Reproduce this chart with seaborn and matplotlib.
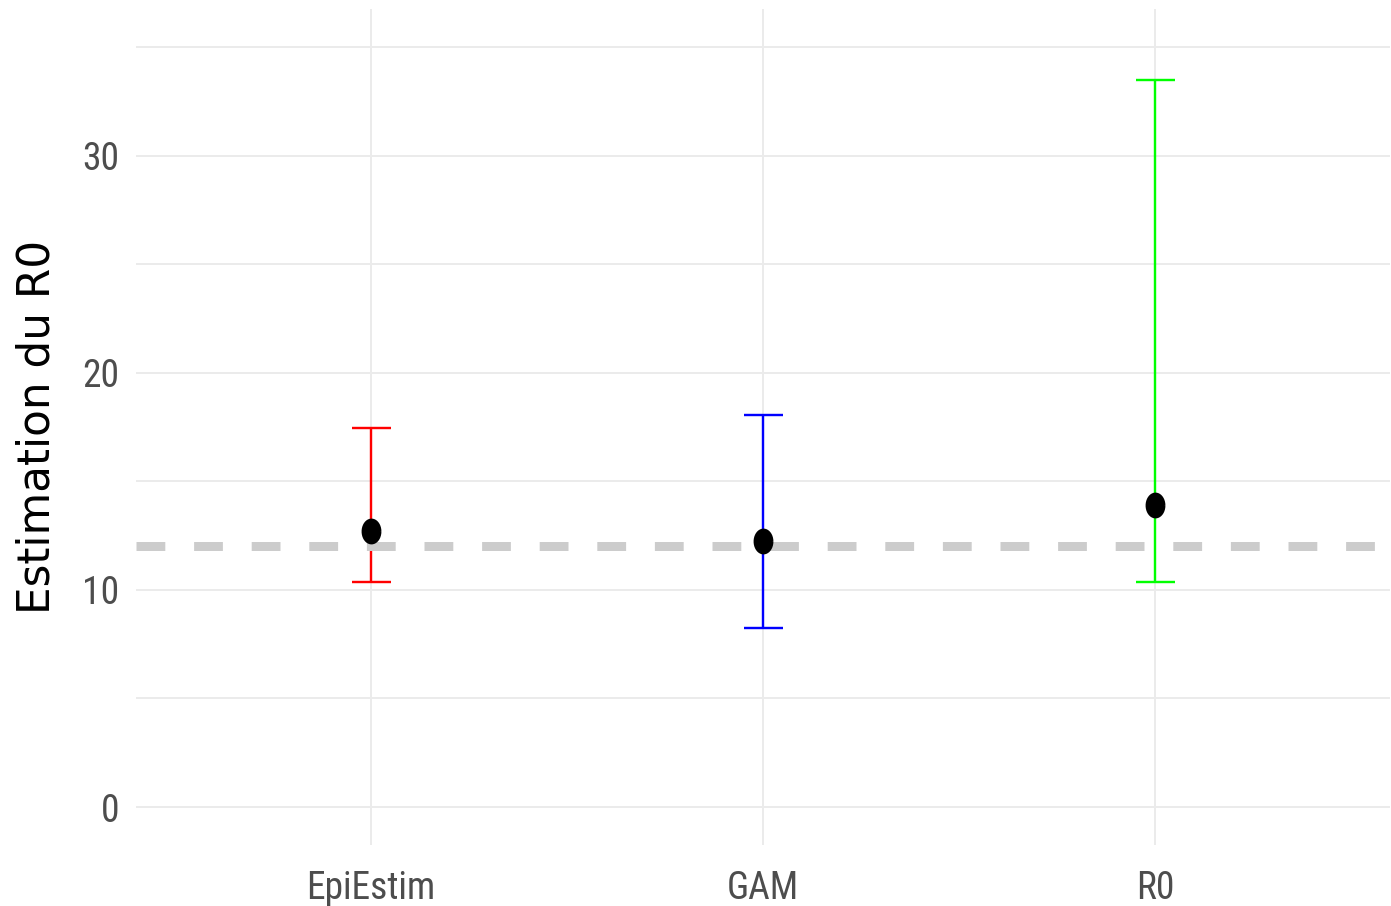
import numpy as np
import pandas as pd
import matplotlib
matplotlib.use("Agg")
import matplotlib.pyplot as plt
from matplotlib import font_manager
from matplotlib.font_manager import FontProperties
import seaborn as sns

# R0 estimates per method with their interval bounds
methods = ["EpiEstim", "GAM", "R0"]
estimates = [12.70, 12.23, 13.90]
lower = [10.37, 8.26, 10.38]
upper = [17.44, 18.06, 33.50]
bar_colors = ["#FF0000", "#0000FF", "#00FF00"]
reference_r0 = 12.0
y_ticks = [0, 10, 20, 30]
y_minor = [5, 15, 25, 35]

df = pd.DataFrame({"method": methods, "estimate": estimates,
                   "lower": lower, "upper": upper})

sns.set_theme(style="white")
plt.rcParams["font.family"] = ["DejaVu Sans"]


def pick_tick_font():
    """Prefer a narrow sans face for tick labels; fall back to Liberation Sans."""
    entries = font_manager.fontManager.ttflist
    wanted = ["liberationsansnarrow-regular", "notosans-condensed.",
              "notosans-condensedregular", "robotocondensed-regular",
              "opensans_condensed-regular", "opensans-condensedregular"]
    for key in wanted:
        for f in entries:
            base = f.fname.lower().rsplit("/", 1)[-1]
            if base.startswith(key):
                return FontProperties(fname=f.fname), True
    for f in entries:
        base = f.fname.lower().rsplit("/", 1)[-1]
        if ("narrow" in base or "condensed" in base) and "sans" in base \
                and "bold" not in base and "italic" not in base \
                and "semi" not in base and "extra" not in base and "light" not in base \
                and "medium" not in base and "black" not in base and "thin" not in base:
            return FontProperties(fname=f.fname), True
    return FontProperties(family="Liberation Sans"), False


tick_fp, narrow = pick_tick_font()
tick_size = 27 if narrow else 22.5
tick_fp.set_size(tick_size)

W, H, DPI = 1391, 906, 100
fig = plt.figure(figsize=(W / DPI, H / DPI), dpi=DPI)
ax = fig.add_axes([136 / W, 1 - 845 / H, (1390 - 136) / W, (845 - 9) / H])

grid_col = "#EBEBEB"
px = 0.72  # points per pixel at 100 dpi

# point estimates drawn with seaborn on the categorical axis
sns.pointplot(data=df, x="method", y="estimate", order=methods,
              linestyle="none", errorbar=None, color="black",
              marker=[(0.74 * np.cos(t), np.sin(t)) for t in np.linspace(0, 2 * np.pi, 40)],
              markersize=23 * px, ax=ax, zorder=5)

# interval bars, one colour per method
xpos = np.arange(len(methods))
for i in range(len(methods)):
    est, lo, hi = estimates[i], lower[i], upper[i]
    ax.errorbar(xpos[i], est, yerr=[[est - lo], [hi - est]], fmt="none",
                ecolor=bar_colors[i], elinewidth=2.4 * px, capsize=19.5 * px,
                capthick=2.4 * px, zorder=3)

# reference value
ax.axhline(reference_r0, color="#CCCCCC", linewidth=9 * px,
           dashes=(3.2, 3.2), zorder=4)

ax.set_xlim(-0.6, len(methods) - 0.4)
ax.set_ylim(-1.75, 36.75)
ax.set_yticks(y_ticks)
ax.set_yticks(y_minor, minor=True)
ax.grid(True, which="both", axis="y", color=grid_col, linewidth=2 * px, zorder=0)
ax.grid(True, which="major", axis="x", color=grid_col, linewidth=2 * px, zorder=0)
ax.set_axisbelow(True)
for s in ax.spines.values():
    s.set_visible(False)

ax.tick_params(axis="both", which="both", length=0)
ax.tick_params(axis="y", pad=12, labelcolor="#4D4D4D")
ax.tick_params(axis="x", pad=18, labelcolor="#4D4D4D")
ax.set_yticklabels([str(v) for v in y_ticks])
for lab in ax.get_xticklabels() + ax.get_yticklabels():
    lab.set_fontproperties(tick_fp)

ax.set_xlabel("")
ax.set_ylabel("Estimation du R0", fontsize=31.5, color="black",
              family=["DejaVu Sans"], va="center")
ax.yaxis.set_label_coords((37 - 136) / (1390 - 136), 0.5)

fig.savefig("out.png", dpi=DPI, facecolor="white")
